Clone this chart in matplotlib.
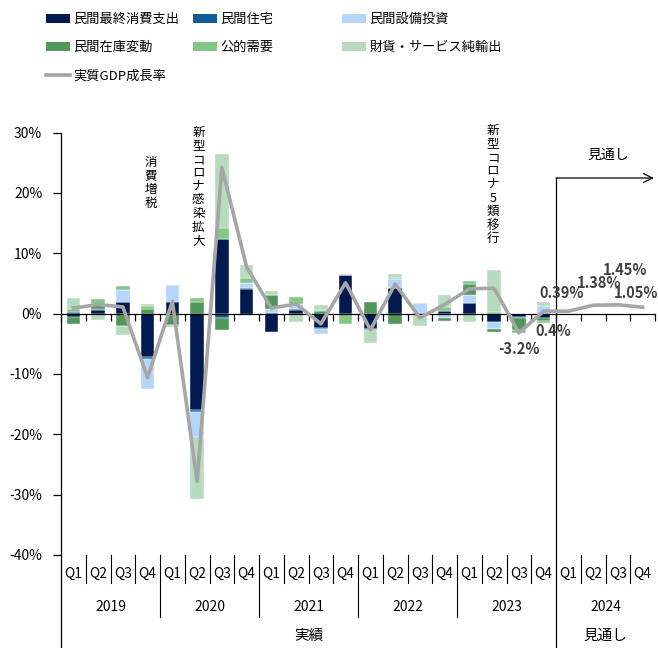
import numpy as np
import matplotlib
matplotlib.use("Agg")
import matplotlib.pyplot as plt
from matplotlib.patches import Patch
from matplotlib.lines import Line2D
from matplotlib.transforms import blended_transform_factory

plt.rcParams['font.family'] = ['Noto Sans CJK JP', 'DejaVu Sans']

quarters = ['Q1', 'Q2', 'Q3', 'Q4'] * 6
years = ['2019', '2020', '2021', '2022', '2023', '2024']

# 寄与度 (%) 2019Q1-2023Q4
cons = [-0.5, 0.55, 1.9, -7.2, 1.9, -16.0, 12.3, 4.1, -3.0, 0.6, -2.4, 6.4,
        -2.5, 4.2, 0.1, 0.4, 1.75, -1.4, -0.6, -0.7]
house = [0.3, 0.2, 0.1, -0.3, -0.3, -0.3, -0.7, 0.1, 0.1, 0.2, -0.1, 0.0,
         -0.1, 0.1, 0.0, 0.0, 0.0, 0.0, -0.2, 0.0]
capex = [0.0, -0.3, 1.9, -5.0, 2.9, -4.2, 0.0, 0.9, 0.7, 0.8, -0.9, 0.0,
         0.0, 1.5, 1.6, -0.8, 1.4, -1.15, 0.0, 1.3]
inven = [-1.2, 0.9, -2.1, 0.8, -1.6, 1.9, -2.0, 0.0, 2.3, 0.0, 0.4, 0.0,
         2.0, -1.7, 0.0, -0.45, 1.8, -0.5, -2.0, -0.6]
public = [0.4, 0.7, 0.7, 0.4, 0.0, 0.7, 1.8, 0.8, 0.0, 1.2, 0.2, -1.7,
          -0.3, 0.1, 0.0, 0.7, 0.4, 0.3, -0.4, -0.3]
netexp = [1.8, -0.7, -1.4, 0.45, -0.4, -10.2, 12.4, 2.2, 0.7, -1.4, 0.8, 0.15,
          -2.0, 0.7, -2.1, 1.9, -1.4, 6.9, 0.0, 0.7]

# 実質GDP成長率 2019Q1-2024Q4
gdp = [0.9, 1.5, 1.1, -10.6, 2.0, -27.8, 24.2, 7.7, 0.9, 1.6, -1.7, 5.1,
       -2.7, 4.9, -0.7, 1.5, 4.1, 4.2, -3.2, 0.4, 0.39, 1.38, 1.45, 1.05]

labels = ['民間最終消費支出', '民間住宅', '民間設備投資', '民間在庫変動', '公的需要', '財貨・サービス純輸出']
colors = ['#001a50', '#0f5c99', '#b4d6fb', '#52975a', '#82c785', '#b7dbbd']
series = [cons, house, capex, inven, public, netexp]

# 数値ラベル: (index, text, dx px, dy px)
val_labels = [(18, '-3.2%', 0, -16), (19, '0.4%', 10, -20), (20, '0.39%', -7, 18),
              (21, '1.38%', 5.5, 22), (22, '1.45%', 6.7, 35), (23, '1.05%', -7, 14)]

W, H = 658, 648
fig = plt.figure(figsize=(W / 100, H / 100), dpi=100)
ax = fig.add_axes([61 / W, 1 - 555 / H, (655 - 61) / W, (555 - 132.5) / H])


def fy(px):
    return 1 - px / H


trans = blended_transform_factory(ax.transData, fig.transFigure)

xa = np.arange(len(cons))
pos = np.zeros(len(cons))
neg = np.zeros(len(cons))
for vals, c in zip(series, colors):
    v = np.array(vals)
    b = np.where(v >= 0, pos, neg)
    ax.bar(xa, v, 0.55, bottom=b, color=c, edgecolor='white', linewidth=0.3, zorder=2)
    pos += np.clip(v, 0, None)
    neg += np.clip(v, None, 0)

x = np.arange(len(gdp))
ax.plot(x, gdp, color='#a6a6a6', lw=2.6, zorder=3)

for i, t, dx, dy in val_labels:
    ax.annotate(t, (i, gdp[i]), xytext=(dx * 0.72, dy * 0.72), textcoords='offset points',
                ha='center', va='center', fontsize=10.5, fontweight='bold', color='#404040',
                annotation_clip=False)

ax.set_xlim(-0.5, 23.5)
ax.set_ylim(-40, 30)
for s in ['top', 'right']:
    ax.spines[s].set_visible(False)
ax.spines['bottom'].set_position(('data', 0))
ax.spines['bottom'].set_linewidth(0.9)
ax.spines['left'].set_linewidth(0.9)
ax.set_xticks(np.arange(-0.5, 24, 1))
ax.tick_params(axis='x', direction='out', length=5, width=0.9, labelbottom=False)
ax.set_yticks(range(-40, 31, 10))
ax.set_yticklabels([f'{v}%' for v in range(-40, 31, 10)])
ax.tick_params(axis='y', length=5.5, width=0.9, pad=8, labelsize=10)

# 縦書き注記
notes = [(3.14, 156, '消費増税'), (5.05, 126, '新型コロナ感染拡大'), (16.95, 124, '新型コロナ5類移行')]
for nx, ny, t in notes:
    ax.text(nx, fy(ny), '\n'.join(t), transform=trans, ha='center', va='top',
            fontsize=9, linespacing=1.05)

# 見通し区切り
ax.plot([19.5, 19.5], [fy(178), 0], transform=trans, color='black', lw=0.9, clip_on=False)
ax.annotate('', xy=(23.45, fy(178)), xycoords=trans, xytext=(19.5, fy(178)), textcoords=trans,
            arrowprops=dict(arrowstyle='->', color='black', lw=0.9, mutation_scale=16,
                            shrinkA=0, shrinkB=0))
ax.text(21.6, fy(155), '見通し', transform=trans, ha='center', va='center', fontsize=10)

# 軸ラベル表
ax.plot([-0.5, -0.5], [fy(555), 0], transform=trans, color='black', lw=0.9, clip_on=False)
for i, q in enumerate(quarters):
    ax.text(i, fy(574), q, transform=trans, ha='center', va='center', fontsize=10)
    if i < len(quarters) - 1:
        b = i + 0.5
        bottom = 583
        if (i + 1) % 4 == 0:
            bottom = 617
        if b == 19.5:
            continue
        ax.plot([b, b], [fy(555), fy(bottom)], transform=trans, color='black', lw=0.8, clip_on=False)
for k, yr in enumerate(years):
    ax.text(4 * k + 1.5, fy(607), yr, transform=trans, ha='center', va='center', fontsize=10)
ax.text(9.5, fy(636), '実績', transform=trans, ha='center', va='center', fontsize=10.5)
ax.text(21.5, fy(636), '見通し', transform=trans, ha='center', va='center', fontsize=10.5)

# 凡例
h = [Patch(facecolor=c) for c in colors]
gl = Line2D([], [], color='#a6a6a6', lw=2.6)
cols = [([h[0], h[3], gl], [labels[0], labels[3], '実質GDP成長率'], 45.7),
        ([h[1], h[4]], [labels[1], labels[4]], 193),
        ([h[2], h[5]], [labels[2], labels[5]], 341.7)]
for hs, ls, lx in cols:
    fig.legend(hs, ls, loc='upper left', bbox_to_anchor=(lx / W, fy(13)), frameon=False,
               fontsize=9.5, handlelength=1.85, handleheight=0.7, handletextpad=0.25,
               labelspacing=1.15, borderpad=0, borderaxespad=0)

fig.savefig('out.png', dpi=100)
